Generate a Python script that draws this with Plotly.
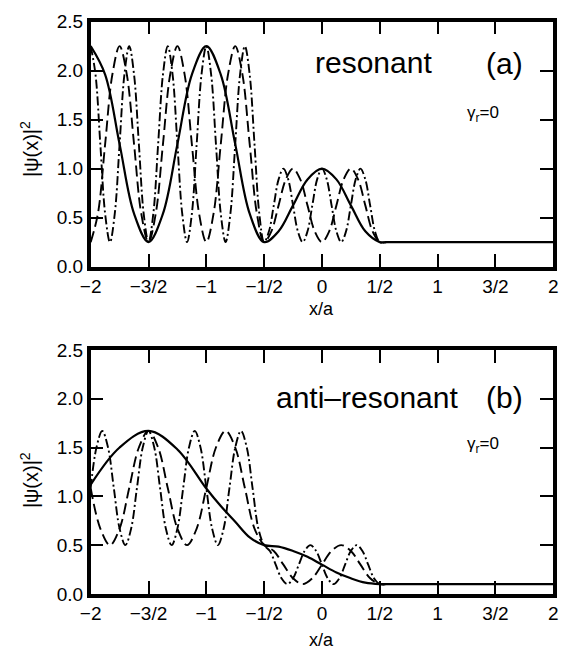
import plotly.graph_objects as go

# ---------------- tick labels ----------------
X_TICKS = [-2, -1.5, -1, -0.5, 0, 0.5, 1, 1.5, 2]
X_TICK_TEXT = ["−2", "−3/2", "−1", "−1/2", "0", "1/2", "1", "3/2", "2"]
Y_TICKS = [0, 0.5, 1.0, 1.5, 2.0, 2.5]
Y_TICK_TEXT = ["0.0", "0.5", "1.0", "1.5", "2.0", "2.5"]

# ---------------- panel (a) resonant : values ----------------
SOLID_A_X = [-2.0, -1.875, -1.75, -1.625, -1.5, -1.375, -1.25, -1.125, -1.0, -0.875, -0.75, -0.625, -0.5,
             -0.375, -0.25, -0.125, 0.0, 0.125, 0.25, 0.375, 0.5,
             0.56, 0.65, 0.8, 1.0, 1.5, 2.0]
SOLID_A_Y = [2.25, 1.96, 1.25, 0.54, 0.25, 0.54, 1.25, 1.96, 2.25, 1.96, 1.25, 0.54, 0.25,
             0.36, 0.625, 0.89, 1.0, 0.89, 0.625, 0.36, 0.25,
             0.25, 0.25, 0.25, 0.25, 0.25, 0.25]

DASH_A_X = [-2.0, -1.9375, -1.875, -1.8125, -1.75, -1.6875, -1.625, -1.5625, -1.5, -1.4375, -1.375, -1.3125,
            -1.25, -1.1875, -1.125, -1.0625, -1.0, -0.9375, -0.875, -0.8125, -0.75, -0.6875, -0.625, -0.5625,
            -0.5, -0.4375, -0.375, -0.3125, -0.25, -0.1875, -0.125, -0.0625, 0.0, 0.0625, 0.125, 0.1875,
            0.25, 0.3125, 0.375, 0.4375, 0.5,
            0.56, 0.65, 0.8, 1.0, 1.5, 2.0]
DASH_A_Y = [0.25, 0.54, 1.25, 1.96, 2.25, 1.96, 1.25, 0.54,
            0.25, 0.54, 1.25, 1.96, 2.25, 1.96, 1.25, 0.54,
            0.25, 0.54, 1.25, 1.96, 2.25, 1.96, 1.25, 0.54,
            0.25, 0.36, 0.625, 0.89, 1.0, 0.89, 0.625, 0.36,
            0.25, 0.36, 0.625, 0.89, 1.0, 0.89, 0.625, 0.36, 0.25,
            0.25, 0.25, 0.25, 0.25, 0.25, 0.25]

DASHDOT_A_X = [-2.0, -1.9583, -1.9167, -1.875, -1.8333, -1.7917, -1.75, -1.7083, -1.6667, -1.625, -1.5833,
               -1.5417, -1.5, -1.4583, -1.4167, -1.375, -1.3333, -1.2917, -1.25, -1.2083, -1.1667, -1.125,
               -1.0833, -1.0417, -1.0, -0.9583, -0.9167, -0.875, -0.8333, -0.7917, -0.75, -0.7083, -0.6667,
               -0.625, -0.5833, -0.5417, -0.5, -0.4583, -0.4167, -0.375, -0.3333, -0.2917, -0.25, -0.2083,
               -0.1667, -0.125, -0.0833, -0.0417, 0.0, 0.0417, 0.0833, 0.125, 0.1667, 0.2083, 0.25, 0.2917,
               0.3333, 0.375, 0.4167, 0.4583, 0.5,
               0.56, 0.65, 0.8, 1.0, 1.5, 2.0]
DASHDOT_A_Y = [2.25, 1.96, 1.25, 0.54, 0.25, 0.54, 1.25, 1.96,
               2.25, 1.96, 1.25, 0.54, 0.25, 0.54, 1.25, 1.96,
               2.25, 1.96, 1.25, 0.54, 0.25, 0.54, 1.25, 1.96,
               2.25, 1.96, 1.25, 0.54, 0.25, 0.54, 1.25, 1.96,
               2.25, 1.96, 1.25, 0.54, 0.25,
               0.36, 0.625, 0.89, 1.0, 0.89, 0.625, 0.36, 0.25,
               0.36, 0.625, 0.89, 1.0, 0.89, 0.625, 0.36, 0.25,
               0.36, 0.625, 0.89, 1.0, 0.89, 0.625, 0.36, 0.25,
               0.25, 0.25, 0.25, 0.25, 0.25, 0.25]

# ---------------- panel (b) anti-resonant : values ----------------
SOLID_B_X = [-2.0, -1.75, -1.5, -1.25, -1.0, -0.875, -0.75, -0.625, -0.5,
             -0.375, -0.25, -0.125, 0.0, 0.125, 0.25, 0.375, 0.5,
             0.56, 0.65, 0.8, 1.0, 1.5, 2.0]
SOLID_B_Y = [1.12, 1.50, 1.67, 1.48, 1.08, 0.90, 0.74, 0.58, 0.50,
             0.485, 0.44, 0.38, 0.30, 0.22, 0.16, 0.115, 0.10,
             0.10, 0.10, 0.10, 0.10, 0.10, 0.10]

DASH_B_X = [-2.0, -1.9167, -1.8333, -1.75, -1.6667, -1.5833, -1.5, -1.4167, -1.3333, -1.25, -1.1667, -1.0833,
            -1.0, -0.9167, -0.8333, -0.75, -0.6667, -0.5833, -0.5, -0.4167, -0.3333, -0.25, -0.1667, -0.0833,
            0.0, 0.0833, 0.1667, 0.25, 0.3333, 0.4167, 0.5,
            0.56, 0.65, 0.8, 1.0, 1.5, 2.0]
DASH_B_Y = [1.085, 0.67, 0.50, 0.67, 1.085, 1.50, 1.67, 1.50, 1.085, 0.67, 0.50, 0.67,
            1.085, 1.50, 1.67, 1.50, 1.085, 0.67, 0.50,
            0.44, 0.30, 0.16, 0.10, 0.16, 0.30, 0.44, 0.50, 0.44, 0.30, 0.16, 0.10,
            0.10, 0.10, 0.10, 0.10, 0.10, 0.10]

DASHDOT_B_X = [-2.0, -1.95, -1.9, -1.85, -1.8, -1.75, -1.7, -1.65, -1.6, -1.55, -1.5, -1.45, -1.4, -1.35,
               -1.3, -1.25, -1.2, -1.15, -1.1, -1.05, -1.0, -0.95, -0.9, -0.85, -0.8, -0.75, -0.7, -0.65,
               -0.6, -0.55, -0.5, -0.45, -0.4, -0.35, -0.3, -0.25, -0.2, -0.15, -0.1, -0.05, 0.0, 0.05,
               0.1, 0.15, 0.2, 0.25, 0.3, 0.35, 0.4, 0.45, 0.5,
               0.56, 0.65, 0.8, 1.0, 1.5, 2.0]
DASHDOT_B_Y = [1.085, 1.50, 1.67, 1.50, 1.085, 0.67, 0.50, 0.67,
               1.085, 1.50, 1.67, 1.50, 1.085, 0.67, 0.50, 0.67,
               1.085, 1.50, 1.67, 1.50, 1.085, 0.67, 0.50, 0.67,
               1.085, 1.50, 1.67, 1.50, 1.085, 0.67, 0.50,
               0.44, 0.30, 0.16, 0.10, 0.16, 0.30, 0.44, 0.50,
               0.44, 0.30, 0.16, 0.10, 0.16, 0.30, 0.44, 0.50,
               0.44, 0.30, 0.16, 0.10,
               0.10, 0.10, 0.10, 0.10, 0.10, 0.10]

W, H = 566, 664
FONT = "Liberation Sans, Arial, Helvetica, sans-serif"

fig = go.Figure()

styles = [("solid", 2.2), ("11px,5px", 1.9), ("9px,3px,2px,3px", 1.9)]
panels = [
    ("x", "y", [(SOLID_A_X, SOLID_A_Y), (DASH_A_X, DASH_A_Y), (DASHDOT_A_X, DASHDOT_A_Y)]),
    ("x2", "y2", [(SOLID_B_X, SOLID_B_Y), (DASH_B_X, DASH_B_Y), (DASHDOT_B_X, DASHDOT_B_Y)]),
]
for xa, ya, series in panels:
    for (xs, ys), (dash, lw) in zip(series, styles):
        fig.add_trace(go.Scatter(
            x=xs, y=ys, xaxis=xa, yaxis=ya, mode="lines",
            line=dict(color="black", width=lw, dash=dash, shape="spline", smoothing=1.0),
            showlegend=False, hoverinfo="skip"))

x_dom = [82 / W, 558 / W]
dom_a = [1 - 265 / H, 1 - 12 / H]
dom_b = [1 - 603 / H, 1 - 351 / H]

xcommon = dict(range=[-2, 2], tickmode="array", tickvals=X_TICKS, ticktext=X_TICK_TEXT,
               ticks="inside", ticklen=13, tickwidth=1.5, tickcolor="black",
               showline=True, linewidth=3.5, linecolor="black", mirror="ticks",
               showgrid=False, zeroline=False,
               tickfont=dict(family=FONT, size=19, color="black"))
ycommon = dict(range=[0, 2.5], tickmode="array", tickvals=Y_TICKS, ticktext=Y_TICK_TEXT,
               ticks="inside", ticklen=13, tickwidth=1.5, tickcolor="black",
               showline=True, linewidth=3.5, linecolor="black", mirror="ticks",
               showgrid=False, zeroline=False,
               tickfont=dict(family=FONT, size=19, color="black"))

fig.update_layout(
    width=W, height=H,
    margin=dict(l=0, r=0, t=0, b=0),
    paper_bgcolor="white", plot_bgcolor="white",
    xaxis=dict(domain=x_dom, anchor="y", **xcommon),
    yaxis=dict(domain=dom_a, anchor="x", **ycommon),
    xaxis2=dict(domain=x_dom, anchor="y2", **xcommon),
    yaxis2=dict(domain=dom_b, anchor="x2", **ycommon),
)

def ann(text, px, py, size, angle=0):
    return dict(text=text, x=px / W, y=1 - py / H, xref="paper", yref="paper",
                showarrow=False, xanchor="center", yanchor="middle", textangle=angle,
                font=dict(family=FONT, size=size, color="black"))

annotations = [
    ann("resonant", 373, 54, 30),
    ann("(a)", 508, 55, 30),
    ann("γ<sub>r</sub>=0", 486, 107, 17),
    ann("anti–resonant", 366, 400, 30),
    ann("(b)", 508, 400, 30),
    ann("γ<sub>r</sub>=0", 486, 449, 17),
    ann("x/a", 320, 309, 18),
    ann("x/a", 320, 651, 18),
    ann("|ψ(x)|<sup>2</sup>", 19, 143, 20, -90),
    ann("|ψ(x)|<sup>2</sup>", 19, 485, 20, -90),
]
fig.update_layout(annotations=annotations)

fig.write_html("out.html")
